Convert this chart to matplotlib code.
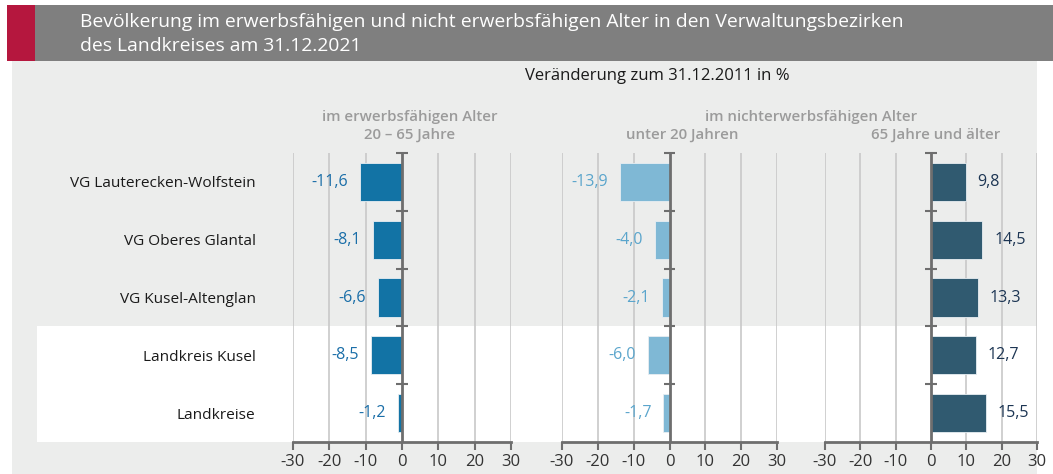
import matplotlib
matplotlib.use("Agg")
import matplotlib.pyplot as plt
from matplotlib.patches import Rectangle

plt.rcParams["axes.unicode_minus"] = False
plt.rcParams["font.family"] = ["Open Sans", "DejaVu Sans"]

# ---------------- data ----------------
title_lines = ["Bevölkerung im erwerbsfähigen und nicht erwerbsfähigen Alter in den Verwaltungsbezirken",
               "des Landkreises am 31.12.2021"]
subtitle = "Veränderung zum 31.12.2011 in %"
categories = ["VG Lauterecken-Wolfstein", "VG Oberes Glantal", "VG Kusel-Altenglan",
              "Landkreis Kusel", "Landkreise"]
erwerbs_20_65 = [-11.6, -8.1, -6.6, -8.5, -1.2]
unter_20 = [-13.9, -4.0, -2.1, -6.0, -1.7]
ab_65 = [9.8, 14.5, 13.3, 12.7, 15.5]
x_ticks = [-30, -20, -10, 0, 10, 20, 30]
header_main_1 = "im erwerbsfähigen Alter"
header_sub_1 = "20 – 65 Jahre"
header_main_23 = "im nichterwerbsfähigen Alter"
header_sub_2 = "unter 20 Jahren"
header_sub_3 = "65 Jahre und älter"

# ---------------- layout ----------------
W, H = 1053, 474
fig = plt.figure(figsize=(W / 100, H / 100), dpi=100)
fig.patch.set_facecolor("white")


def fx(x):
    return x / W


def fy(y):
    return 1 - y / H


def rect(x0, y0, x1, y1, color):
    fig.patches.append(Rectangle((fx(x0), fy(y1)), (x1 - x0) / W, (y1 - y0) / H,
                                 transform=fig.transFigure, facecolor=color,
                                 edgecolor="none", zorder=-5))


rect(12, 61, 1037, 474, "#ecedec")
rect(37, 326, 1037, 442, "white")
rect(7, 5, 1053, 61, "#7f7f7f")
rect(7, 5, 35, 61, "#b5173e")

fig.text(fx(80), fy(22), title_lines[0], color="white", fontsize=13.9, va="center", ha="left")
fig.text(fx(80), fy(46), title_lines[1], color="white", fontsize=13.9, va="center", ha="left")
fig.text(fx(657), fy(76), subtitle, color="#1a1a1a", fontsize=12, va="center", ha="center")

hdr_color = "#9b9b9b"
hdr_kw = dict(color=hdr_color, fontsize=10.8, fontweight="semibold", ha="center", va="center")
fig.text(fx(410), fy(117), header_main_1, **hdr_kw)
fig.text(fx(410), fy(135), header_sub_1, **hdr_kw)
fig.text(fx(811), fy(117), header_main_23, **hdr_kw)
fig.text(fx(682), fy(135), header_sub_2, **hdr_kw)
fig.text(fx(936), fy(135), header_sub_3, **hdr_kw)

panels = [
    (293, 511, erwerbs_20_65, "#1273a5", "#1a6ea8"),
    (562, 777, unter_20, "#7fb8d5", "#5aa5cc"),
    (825, 1037, ab_65, "#305a70", "#1c3553"),
]
top, bottom = 153, 442
dark = "#6e6e6e"
ypos = list(range(len(categories)))

for k, (l, r, vals, bar_c, lab_c) in enumerate(panels):
    ax = fig.add_axes([fx(l), fy(bottom), (r - l) / W, (bottom - top) / H])
    ax.patch.set_alpha(0)
    ax.set_xlim(x_ticks[0], x_ticks[-1])
    ax.set_ylim(len(categories) - 0.5, -0.5)
    for v in x_ticks:
        if v != 0:
            ax.axvline(v, color="#c8c8c8", lw=1.2, zorder=0)
    ax.barh(ypos, vals, height=0.66, color=bar_c, edgecolor="#e8eef2", linewidth=0.6, zorder=2)
    ax.axvline(0, color=dark, lw=2, zorder=3)
    for b in range(len(categories)):
        ax.plot([-1.6, 1.6], [b - 0.5, b - 0.5], color=dark, lw=1.5, zorder=3,
                clip_on=False, solid_capstyle="butt")
    for sp in ["top", "left", "right"]:
        ax.spines[sp].set_visible(False)
    ax.spines["bottom"].set_color(dark)
    ax.spines["bottom"].set_linewidth(2)
    ax.set_xticks(x_ticks)
    ax.set_xticklabels([str(t) for t in x_ticks])
    ax.tick_params(axis="x", direction="out", length=6, width=1.5, color=dark,
                   labelsize=12, labelcolor="#333333", pad=3)
    if k == 0:
        ax.set_yticks(ypos)
        ax.set_yticklabels(categories, fontsize=11.1, color="#1a1a1a")
        ax.tick_params(axis="y", length=0, pad=27)
    else:
        ax.set_yticks([])
    for i, v in enumerate(vals):
        txt = f"{v:.1f}".replace(".", ",")
        ax.annotate(txt, xy=(v, i), xytext=(-12 if v < 0 else 12, 0), textcoords="offset pixels",
                    ha="right" if v < 0 else "left", va="center", fontsize=11.5, color=lab_c)

fig.savefig("out.png", dpi=100)
